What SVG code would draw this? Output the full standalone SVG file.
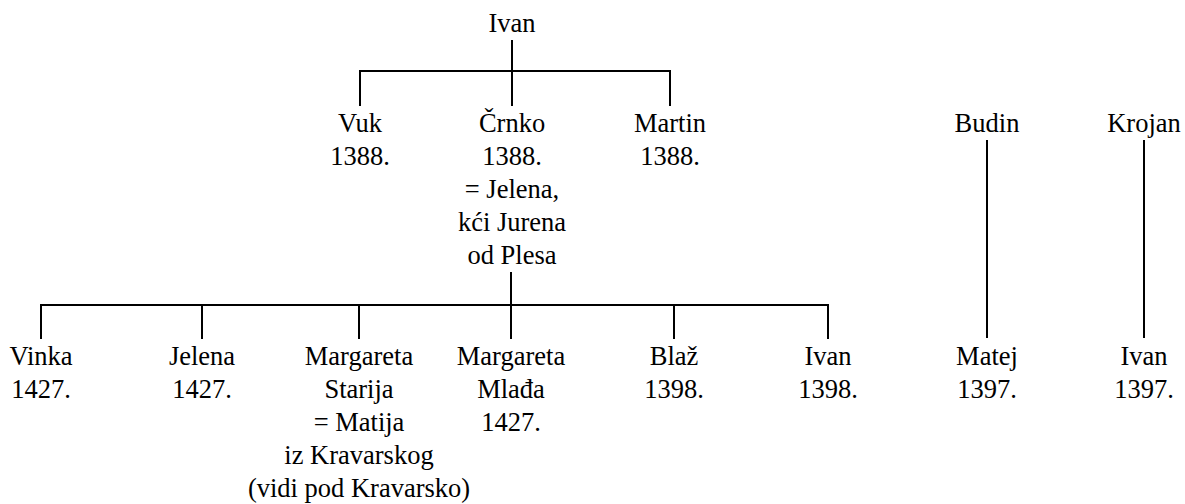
<svg xmlns="http://www.w3.org/2000/svg" width="1185" height="504" viewBox="0 0 1185 504">
<style>
text{font-size:26.5px;fill:#000;text-anchor:middle;font-family:'Liberation Serif','Times New Roman',serif}
.c path{stroke:#000;stroke-width:2;fill:none}
</style>
<rect width="1185" height="504" fill="#fff"/>
<g class="c" id="connectors">
<path d="M512 40V71M360 106V71H670V106M512 71V106"/>
<path d="M511 272V305M41 339V305H828V339M202 305V339M359 305V339M511 305V339M674 305V339"/>
<path d="M987 140V338M1144 140V338"/>
</g>
<g id="n-ivan"><text x="512" y="32">Ivan</text></g>
<g id="n-vuk"><text x="360" y="132">Vuk</text><text x="360" y="165">1388.</text></g>
<g id="n-crnko"><text x="512" y="132">Črnko</text><text x="512" y="165">1388.</text><text x="512" y="198">= Jelena,</text><text x="512" y="231">kći Jurena</text><text x="512" y="264">od Plesa</text></g>
<g id="n-martin"><text x="670" y="132">Martin</text><text x="670" y="165">1388.</text></g>
<g id="n-budin"><text x="987" y="132">Budin</text></g>
<g id="n-krojan"><text x="1144" y="132">Krojan</text></g>
<g id="n-vinka"><text x="41" y="365">Vinka</text><text x="41" y="398">1427.</text></g>
<g id="n-jelena"><text x="202" y="365">Jelena</text><text x="202" y="398">1427.</text></g>
<g id="n-margareta-s"><text x="359" y="365">Margareta</text><text x="359" y="398">Starija</text><text x="359" y="431">= Matija</text><text x="359" y="464">iz Kravarskog</text><text x="359" y="497">(vidi pod Kravarsko)</text></g>
<g id="n-margareta-m"><text x="511" y="365">Margareta</text><text x="511" y="398">Mlađa</text><text x="511" y="431">1427.</text></g>
<g id="n-blaz"><text x="674" y="365">Blaž</text><text x="674" y="398">1398.</text></g>
<g id="n-ivan2"><text x="828" y="365">Ivan</text><text x="828" y="398">1398.</text></g>
<g id="n-matej"><text x="987" y="365">Matej</text><text x="987" y="398">1397.</text></g>
<g id="n-ivan3"><text x="1144" y="365">Ivan</text><text x="1144" y="398">1397.</text></g>
</svg>
